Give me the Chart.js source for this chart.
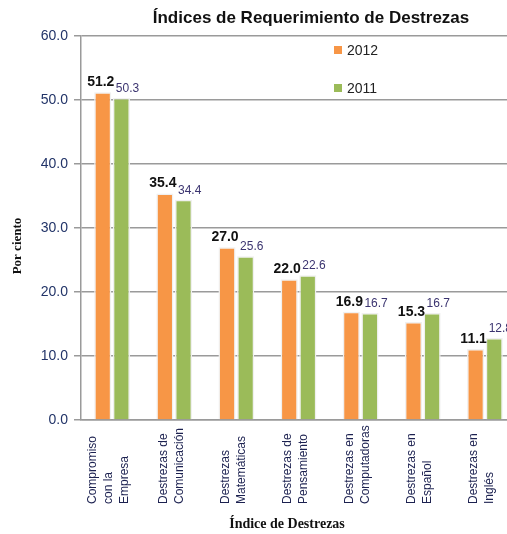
<!DOCTYPE html>
<html>
<head>
<meta charset="utf-8">
<script src="https://cdn.jsdelivr.net/npm/chart.js@4/dist/chart.umd.min.js"></script>
<style>
  html, body { margin: 0; padding: 0; background: #fff; overflow: hidden; }
  #wrap { width: 522px; height: 534px; position: relative; }
</style>
</head>
<body>
<div id="wrap"><canvas id="chart"></canvas></div>
<script>
// datos
const categorias = [
  ['Compromiso', 'con la', 'Empresa'],
  ['Destrezas de', 'Comunicación'],
  ['Destrezas', 'Matemáticas'],
  ['Destrezas de', 'Pensamiento'],
  ['Destrezas en', 'Computadoras'],
  ['Destrezas en', 'Español'],
  ['Destrezas en', 'Inglés']
];
const valores2012 = [51.2, 35.4, 27.0, 22.0, 16.9, 15.3, 11.1];
const valores2011 = [50.3, 34.4, 25.6, 22.6, 16.7, 16.7, 12.8];
const series = ['2012', '2011'];
const ticksY = [0, 10, 20, 30, 40, 50, 60];

const naranja = '#F79646';
const verde = '#9BBB59';

// textos dibujados a mano (titulo, leyenda, etiquetas)
const textos = {
  id: 'textos',
  afterDatasetsDraw(chart) {
    const ctx = chart.ctx;
    ctx.save();
    // etiquetas de 2012
    const m0 = chart.getDatasetMeta(0);
    ctx.font = 'bold 14px "Liberation Sans", Arial, sans-serif';
    ctx.fillStyle = '#111';
    ctx.textAlign = 'center';
    ctx.textBaseline = 'alphabetic';
    m0.data.forEach((bar, i) => {
      ctx.fillText(valores2012[i].toFixed(1), bar.x - 2, bar.y - 6);
    });
    // etiquetas de 2011
    const m1 = chart.getDatasetMeta(1);
    ctx.font = '12px "Liberation Sans", Arial, sans-serif';
    ctx.fillStyle = '#3b3470';
    ctx.textAlign = 'left';
    m1.data.forEach((bar, i) => {
      ctx.fillText(valores2011[i].toFixed(1), bar.x - bar.width / 2 + 3, bar.y - 6);
    });
    ctx.restore();
  },
  afterDraw(chart) {
    const ctx = chart.ctx;
    const x = chart.scales.x;
    ctx.save();

    // titulo
    ctx.font = 'bold 17px "Liberation Sans", Arial, sans-serif';
    ctx.fillStyle = '#111';
    ctx.textAlign = 'center';
    ctx.textBaseline = 'middle';
    ctx.fillText('Índices de Requerimiento de Destrezas', 311, 18);

    // leyenda
    const colores = [naranja, verde];
    const ys = [50, 88];
    ctx.font = '14px "Liberation Sans", Arial, sans-serif';
    ctx.textAlign = 'left';
    series.forEach((s, i) => {
      ctx.fillStyle = colores[i];
      ctx.fillRect(334, ys[i] - 4, 8, 8);
      ctx.fillStyle = '#222';
      ctx.fillText(s, 347, ys[i] + 1);
    });

    // categorias giradas
    ctx.font = '12px "Liberation Sans", Arial, sans-serif';
    ctx.fillStyle = '#1c2150';
    ctx.textBaseline = 'middle';
    categorias.forEach((lineas, i) => {
      const px = x.getPixelForValue(i) - 3;
      ctx.save();
      ctx.translate(px, 504);
      ctx.rotate(-Math.PI / 2);
      lineas.forEach((t, k) => {
        ctx.fillText(t, 0, (k - (lineas.length - 1) / 2) * 16);
      });
      ctx.restore();
    });

    // titulos de ejes
    ctx.font = 'bold 14px "Liberation Serif", "Times New Roman", serif';
    ctx.fillStyle = '#111';
    ctx.textAlign = 'center';
    ctx.fillText('Índice de Destrezas', 287, 524);

    ctx.save();
    ctx.translate(18, 246);
    ctx.rotate(-Math.PI / 2);
    ctx.font = 'bold 13px "Liberation Serif", "Times New Roman", serif';
    ctx.fillText('Por ciento', 0, 0);
    ctx.restore();

    ctx.restore();
  }
};

new Chart(document.getElementById('chart'), {
  type: 'bar',
  data: {
    labels: categorias,
    datasets: [
      { label: series[0], data: valores2012, backgroundColor: naranja, borderColor: '#f0f0f0', borderWidth: 1.5 },
      { label: series[1], data: valores2011, backgroundColor: verde, borderColor: '#f0f0f0', borderWidth: 1.5 }
    ]
  },
  options: {
    responsive: true,
    maintainAspectRatio: false,
    animation: false,
    layout: { padding: { top: 36, right: 6, left: 0, bottom: 0 } },
    datasets: { bar: { categoryPercentage: 0.6, barPercentage: 0.92 } },
    plugins: {
      legend: { display: false },
      title: { display: false },
      tooltip: { enabled: false }
    },
    scales: {
      x: {
        ticks: { display: false },
        grid: { display: false },
        border: { color: '#9a9a9a', width: 1.5 },
        afterFit(scale) { scale.height = 114; }
      },
      y: {
        min: 0,
        max: 60,
        afterBuildTicks(scale) { scale.ticks = ticksY.map(v => ({ value: v })); },
        ticks: {
          padding: 6,
          color: '#223468',
          font: { family: '"Liberation Sans", Arial, sans-serif', size: 14 },
          callback: v => v.toFixed(1)
        },
        grid: { color: '#9a9a9a', lineWidth: 1.5, tickLength: 7 },
        border: { color: '#9a9a9a', width: 1.5 },
        afterFit(scale) { scale.width = 81; }
      }
    }
  },
  plugins: [textos]
});
</script>
</body>
</html>
